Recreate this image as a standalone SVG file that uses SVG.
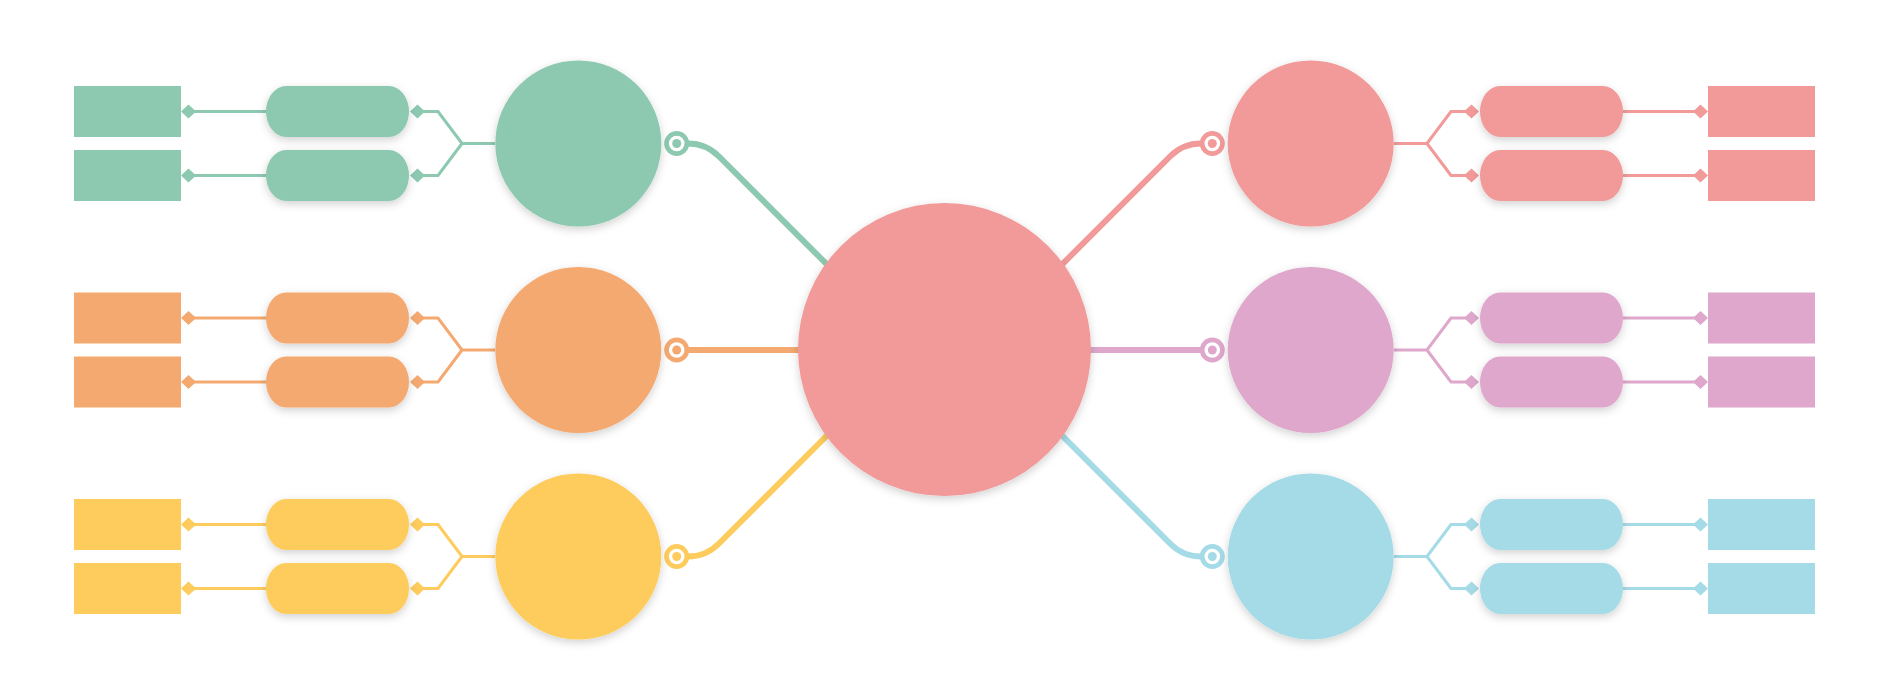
<svg xmlns="http://www.w3.org/2000/svg" width="1889" height="699" viewBox="0 0 1889 699">
<defs>
<filter id="sh" x="-20%" y="-20%" width="140%" height="150%">
<feDropShadow dx="0" dy="3" stdDeviation="4" flood-color="#000" flood-opacity="0.18"/>
</filter>
</defs>
<style>
.thin{fill:none;stroke-width:3}
.thick{fill:none;stroke-width:6;stroke-linecap:butt}
.g{fill:#8DC9B1}.gs{stroke:#8DC9B1}
.o{fill:#F4A971}.os{stroke:#F4A971}
.y{fill:#FECC5C}.ys{stroke:#FECC5C}
.p{fill:#F19A99}.ps{stroke:#F19A99}
.u{fill:#DEA7CB}.us{stroke:#DEA7CB}
.b{fill:#A4DBE7}.bs{stroke:#A4DBE7}
.w{fill:#fff}
.shadow{filter:url(#sh)}
</style>
<rect width="1889" height="699" fill="#fff"/>

<g id="connectors">
<path class="thick gs" d="M676.7 143.5 H688 Q706 143.5 719 156.5 L860 297.5"/>
<path class="thick os" d="M676.7 350 H850"/>
<path class="thick ys" d="M676.7 556.5 H688 Q706 556.5 719 543.5 L860 402.5"/>
<path class="thick ps" d="M1212.3 143.5 H1201 Q1183 143.5 1170 156.5 L1029 297.5"/>
<path class="thick us" d="M1212.3 350 H1039"/>
<path class="thick bs" d="M1212.3 556.5 H1201 Q1183 556.5 1170 543.5 L1029 402.5"/>
<g><circle class="g" cx="676.7" cy="143.5" r="12.5"/><circle class="w" cx="676.7" cy="143.5" r="7.8"/><circle class="g" cx="676.7" cy="143.5" r="4.5"/></g>
<g><circle class="o" cx="676.7" cy="350" r="12.5"/><circle class="w" cx="676.7" cy="350" r="7.8"/><circle class="o" cx="676.7" cy="350" r="4.5"/></g>
<g><circle class="y" cx="676.7" cy="556.5" r="12.5"/><circle class="w" cx="676.7" cy="556.5" r="7.8"/><circle class="y" cx="676.7" cy="556.5" r="4.5"/></g>
<g><circle class="p" cx="1212.3" cy="143.5" r="12.5"/><circle class="w" cx="1212.3" cy="143.5" r="7.8"/><circle class="p" cx="1212.3" cy="143.5" r="4.5"/></g>
<g><circle class="u" cx="1212.3" cy="350" r="12.5"/><circle class="w" cx="1212.3" cy="350" r="7.8"/><circle class="u" cx="1212.3" cy="350" r="4.5"/></g>
<g><circle class="b" cx="1212.3" cy="556.5" r="12.5"/><circle class="w" cx="1212.3" cy="556.5" r="7.8"/><circle class="b" cx="1212.3" cy="556.5" r="4.5"/></g>

<path class="thin gs" d="M495 143.5 H462 L438 111.5 H423 M462 143.5 L438 175.5 H423"/>
<path class="thin gs" d="M266 111.5 H194 M266 175.5 H194"/>
<path class="thin os" d="M495 350 H462 L438 318 H423 M462 350 L438 382 H423"/>
<path class="thin os" d="M266 318 H194 M266 382 H194"/>
<path class="thin ys" d="M495 556.5 H462 L438 524.5 H423 M462 556.5 L438 588.5 H423"/>
<path class="thin ys" d="M266 524.5 H194 M266 588.5 H194"/>
<path class="thin ps" d="M1394 143.5 H1427 L1451 111.5 H1466 M1427 143.5 L1451 175.5 H1466"/>
<path class="thin ps" d="M1623 111.5 H1695 M1623 175.5 H1695"/>
<path class="thin us" d="M1394 350 H1427 L1451 318 H1466 M1427 350 L1451 382 H1466"/>
<path class="thin us" d="M1623 318 H1695 M1623 382 H1695"/>
<path class="thin bs" d="M1394 556.5 H1427 L1451 524.5 H1466 M1427 556.5 L1451 588.5 H1466"/>
<path class="thin bs" d="M1623 524.5 H1695 M1623 588.5 H1695"/>
<g class="g"><path d="M410 111.5 L417.5 104.5 L425 111.5 L417.5 118.5Z M410 175.5 L417.5 168.5 L425 175.5 L417.5 182.5Z M181 111.5 L188.5 104.5 L196 111.5 L188.5 118.5Z M181 175.5 L188.5 168.5 L196 175.5 L188.5 182.5Z"/></g>
<g class="o"><path d="M410 318 L417.5 311 L425 318 L417.5 325Z M410 382 L417.5 375 L425 382 L417.5 389Z M181 318 L188.5 311 L196 318 L188.5 325Z M181 382 L188.5 375 L196 382 L188.5 389Z"/></g>
<g class="y"><path d="M410 524.5 L417.5 517.5 L425 524.5 L417.5 531.5Z M410 588.5 L417.5 581.5 L425 588.5 L417.5 595.5Z M181 524.5 L188.5 517.5 L196 524.5 L188.5 531.5Z M181 588.5 L188.5 581.5 L196 588.5 L188.5 595.5Z"/></g>
<g class="p"><path d="M1479 111.5 L1471.5 104.5 L1464 111.5 L1471.5 118.5Z M1479 175.5 L1471.5 168.5 L1464 175.5 L1471.5 182.5Z M1708 111.5 L1700.5 104.5 L1693 111.5 L1700.5 118.5Z M1708 175.5 L1700.5 168.5 L1693 175.5 L1700.5 182.5Z"/></g>
<g class="u"><path d="M1479 318 L1471.5 311 L1464 318 L1471.5 325Z M1479 382 L1471.5 375 L1464 382 L1471.5 389Z M1708 318 L1700.5 311 L1693 318 L1700.5 325Z M1708 382 L1700.5 375 L1693 382 L1700.5 389Z"/></g>
<g class="b"><path d="M1479 524.5 L1471.5 517.5 L1464 524.5 L1471.5 531.5Z M1479 588.5 L1471.5 581.5 L1464 588.5 L1471.5 595.5Z M1708 524.5 L1700.5 517.5 L1693 524.5 L1700.5 531.5Z M1708 588.5 L1700.5 581.5 L1693 588.5 L1700.5 595.5Z"/></g>
</g>

<g id="center"><circle class="p shadow" cx="944.5" cy="349.5" r="146.5"/></g>

<g id="c-green"><circle class="g shadow" cx="578.3" cy="143.5" r="83"/></g>
<g id="c-orange"><circle class="o shadow" cx="578.3" cy="350" r="83"/></g>
<g id="c-yellow"><circle class="y shadow" cx="578.3" cy="556.5" r="83"/></g>
<g id="c-pink"><circle class="p shadow" cx="1310.7" cy="143.5" r="83"/></g>
<g id="c-purple"><circle class="u shadow" cx="1310.7" cy="350" r="83"/></g>
<g id="c-blue"><circle class="b shadow" cx="1310.7" cy="556.5" r="83"/></g>

<g id="pill-g1"><rect class="g shadow" x="266" y="86" width="143" height="51" rx="20" ry="25.5"/></g>
<g id="pill-g2"><rect class="g shadow" x="266" y="150" width="143" height="51" rx="20" ry="25.5"/></g>
<g id="pill-o1"><rect class="o shadow" x="266" y="292.5" width="143" height="51" rx="20" ry="25.5"/></g>
<g id="pill-o2"><rect class="o shadow" x="266" y="356.5" width="143" height="51" rx="20" ry="25.5"/></g>
<g id="pill-y1"><rect class="y shadow" x="266" y="499" width="143" height="51" rx="20" ry="25.5"/></g>
<g id="pill-y2"><rect class="y shadow" x="266" y="563" width="143" height="51" rx="20" ry="25.5"/></g>
<g id="pill-p1"><rect class="p shadow" x="1480" y="86" width="143" height="51" rx="20" ry="25.5"/></g>
<g id="pill-p2"><rect class="p shadow" x="1480" y="150" width="143" height="51" rx="20" ry="25.5"/></g>
<g id="pill-u1"><rect class="u shadow" x="1480" y="292.5" width="143" height="51" rx="20" ry="25.5"/></g>
<g id="pill-u2"><rect class="u shadow" x="1480" y="356.5" width="143" height="51" rx="20" ry="25.5"/></g>
<g id="pill-b1"><rect class="b shadow" x="1480" y="499" width="143" height="51" rx="20" ry="25.5"/></g>
<g id="pill-b2"><rect class="b shadow" x="1480" y="563" width="143" height="51" rx="20" ry="25.5"/></g>

<g id="rect-g1"><rect class="g" x="74" y="86" width="107" height="51"/></g>
<g id="rect-g2"><rect class="g" x="74" y="150" width="107" height="51"/></g>
<g id="rect-o1"><rect class="o" x="74" y="292.5" width="107" height="51"/></g>
<g id="rect-o2"><rect class="o" x="74" y="356.5" width="107" height="51"/></g>
<g id="rect-y1"><rect class="y" x="74" y="499" width="107" height="51"/></g>
<g id="rect-y2"><rect class="y" x="74" y="563" width="107" height="51"/></g>
<g id="rect-p1"><rect class="p" x="1708" y="86" width="107" height="51"/></g>
<g id="rect-p2"><rect class="p" x="1708" y="150" width="107" height="51"/></g>
<g id="rect-u1"><rect class="u" x="1708" y="292.5" width="107" height="51"/></g>
<g id="rect-u2"><rect class="u" x="1708" y="356.5" width="107" height="51"/></g>
<g id="rect-b1"><rect class="b" x="1708" y="499" width="107" height="51"/></g>
<g id="rect-b2"><rect class="b" x="1708" y="563" width="107" height="51"/></g>
</svg>
